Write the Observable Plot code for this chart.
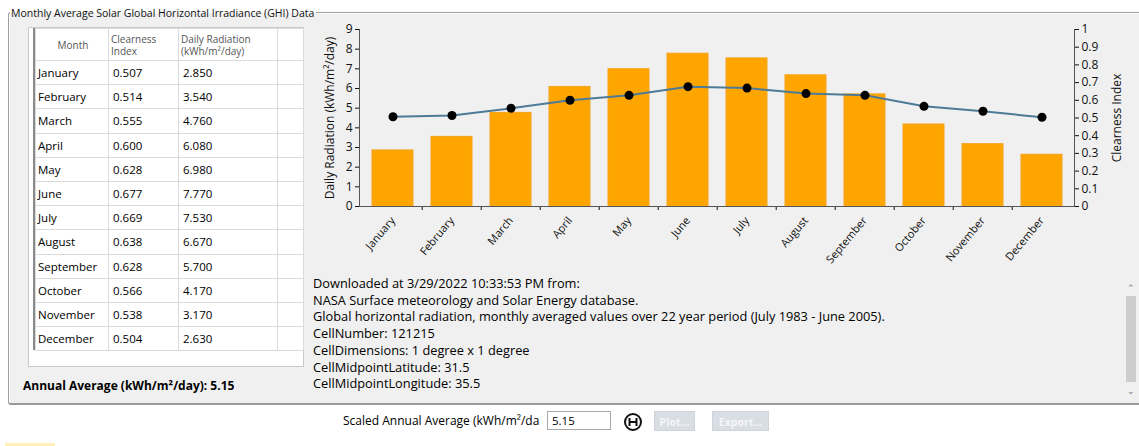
<!DOCTYPE html>
<html><head><meta charset="utf-8">
<script src="https://cdn.jsdelivr.net/npm/d3@7"></script>
<script src="https://cdn.jsdelivr.net/npm/@observablehq/plot@0.6"></script>
<style>
body{margin:0;background:#fff;font-family:"Open Sans",sans-serif;color:#000;}
#root{position:relative;width:1139px;height:446px;overflow:hidden;background:#fff;}
#group{position:absolute;left:8px;top:12px;width:1131px;height:390px;border:1px solid #a0a0a0;border-right:none;border-bottom:2px solid #9a9a9a;border-radius:3px 0 0 3px;background:#f0f0f0;box-shadow:inset 1px 1px 0 #fff;}
#gtitle{position:absolute;left:10px;top:6px;font-size:10.5px;line-height:14px;padding:0 2px 0 1px;background:linear-gradient(#fff 50%,#f0f0f0 50%);color:#111;white-space:nowrap;}
#tablebox{position:absolute;left:28px;top:27px;width:274px;height:338px;background:#fff;border:1px solid #c9c9c9;}
#tbar{position:absolute;left:4px;top:0;width:2px;height:322px;background:#8a8a8a;}
table{position:absolute;left:6px;top:0;border-collapse:collapse;table-layout:fixed;}
td,th{border:1px solid #dadada;padding:0 0 0 2px;font-weight:normal;text-align:left;vertical-align:middle;white-space:nowrap;overflow:hidden;}
th{height:31px;font-size:10px;line-height:12px;color:#555;}
td{height:23.2px;font-size:11.5px;color:#000;}
#annual{position:absolute;left:23px;top:377px;font-size:12px;font-weight:bold;}
#chart{position:absolute;left:303px;top:20px;}
#info{position:absolute;left:313px;top:275px;font-size:12.8px;line-height:16.7px;color:#000;white-space:nowrap;}
#scroll{position:absolute;left:1125px;top:280px;width:11px;height:120px;}
#scroll .thumb{position:absolute;left:1px;top:16px;width:10px;height:86px;background:#cdcdcd;}
#scroll .up,#scroll .dn{position:absolute;left:1px;width:10px;text-align:center;font-size:9px;color:#777;line-height:10px;}
#bottom{position:absolute;left:0;top:403px;width:1139px;height:43px;}
#slabel{position:absolute;left:343px;top:9px;font-size:12px;white-space:nowrap;}
#sinput{position:absolute;left:547px;top:8px;width:64px;height:19px;border:1px solid #a9a9a9;background:#fff;font-size:11.5px;line-height:18px;padding-left:4px;box-sizing:border-box;}
#icon{position:absolute;left:623px;top:9px;}
.btn{position:absolute;top:8px;height:20px;background:#d9dde4;border:1px solid #cfd3da;color:#f4f6fa;font-size:10.5px;font-weight:bold;line-height:20px;text-align:center;box-sizing:border-box;}
#yellow{position:absolute;left:5px;top:443px;width:50px;height:3px;background:#fff1b8;}
</style></head><body>
<div id="root">
  <div id="group"></div>
  <div id="gtitle">Monthly Average Solar Global Horizontal Irradiance (GHI) Data</div>
  <div id="tablebox"><div id="tbar"></div><table id="tbl"></table></div>
  <div id="annual"></div>
  <div id="chart"></div>
  <div id="info"></div>
  <div id="scroll"><div class="up" style="top:3px">&#8963;</div><div class="thumb"></div><div class="dn" style="top:106px">&#8964;</div></div>
  <div id="bottom">
    <div id="slabel">Scaled Annual Average (kWh/m²/da</div>
    <div id="sinput"></div>
    <svg id="icon" width="20" height="20" viewBox="0 0 20 20"><circle cx="10" cy="10" r="8" fill="none" stroke="#111" stroke-width="2"/><path d="M6.5 6v8M13.5 6v8M6.5 10h7" stroke="#111" stroke-width="2" fill="none"/></svg>
    <div class="btn" style="left:654px;width:41px;">Plot...</div>
    <div class="btn" style="left:712px;width:57px;">Export...</div>
  </div>
  <div id="yellow"></div>
</div>
<script>
// ---- data ----
const months = ["January","February","March","April","May","June","July","August","September","October","November","December"];
const clearness = [0.507,0.514,0.555,0.600,0.628,0.677,0.669,0.638,0.628,0.566,0.538,0.504];
const radiation = [2.850,3.540,4.760,6.080,6.980,7.770,7.530,6.670,5.700,4.170,3.170,2.630];
const yTicks = [0,1,2,3,4,5,6,7,8,9];
const ciTicks = [0,0.1,0.2,0.3,0.4,0.5,0.6,0.7,0.8,0.9,1];
const annualAverage = 5.15;
const tableHeaders = ["Month","Clearness<br>Index","Daily Radiation<br>(kWh/m²/day)",""];
const infoLines = [
  "Downloaded at 3/29/2022 10:33:53 PM from:",
  "NASA Surface meteorology and Solar Energy database.",
  "Global horizontal radiation, monthly averaged values over 22 year period (July 1983 - June 2005).",
  "CellNumber: 121215",
  "CellDimensions: 1 degree x 1 degree",
  "CellMidpointLatitude: 31.5",
  "CellMidpointLongitude: 35.5"
];

// ---- table ----
const colW = [73,70,99,26];
let html = "<colgroup>" + colW.map(w=>`<col style="width:${w}px">`).join("") + "</colgroup>";
html += "<tr>" + tableHeaders.map((h,i)=>`<th style="${i===0?'text-align:center':''}">${h}</th>`).join("") + "</tr>";
months.forEach((m,i)=>{
  html += `<tr><td>${m}</td><td style="padding-left:4px">${clearness[i].toFixed(3)}</td><td style="padding-left:4px">${radiation[i].toFixed(3)}</td><td></td></tr>`;
});
document.getElementById("tbl").innerHTML = html;
document.getElementById("tbl").style.width = d3.sum(colW) + "px";
document.getElementById("annual").textContent = "Annual Average (kWh/m²/day): " + annualAverage.toFixed(2);
document.getElementById("sinput").textContent = annualAverage.toFixed(2);
document.getElementById("info").innerHTML = infoLines.join("<br>");

// ---- chart ----
const W = 832, H = 250, mL = 56, mR = 61, mT = 9, mB = 64;
const yMax = 9;
const step = (W - mL - mR) / months.length;
const data = months.map((m,i)=>({month:m, radiation:radiation[i], clearness:clearness[i]}));
const chart = Plot.plot({
  width: W, height: H, marginLeft: mL, marginRight: mR, marginTop: mT, marginBottom: mB,
  style: {background:"transparent", fontFamily:"'Open Sans',sans-serif", fontSize:"12px", color:"#111", overflow:"visible"},
  x: {domain: months, paddingInner: 0.31, paddingOuter: 0.155, align: 0.5},
  y: {domain: [0, yMax]},
  marks: [
    Plot.barY(data, {x:"month", y:"radiation", fill:"#ffa500", stroke:"#f3a41a", strokeWidth:1}),
    Plot.line(data, {x:"month", y:d=>d.clearness*yMax, stroke:"#4d7b97", strokeWidth:2}),
    Plot.dot(data, {x:"month", y:d=>d.clearness*yMax, r:4.5, fill:"#000"}),
    Plot.axisY(yTicks, {anchor:"left", tickSize:4, tickPadding:3, label:"Daily Radiation (kWh/m²/day)", labelAnchor:"center", labelArrow:"none", labelOffset:34, fontSize:12}),
    Plot.axisY(ciTicks.map(v=>v*yMax), {anchor:"right", tickSize:4, tickPadding:3, tickFormat:d=>String(+(d/yMax).toFixed(1)), label:"Clearness Index", labelAnchor:"center", labelArrow:"none", labelOffset:46, fontSize:12}),
    Plot.axisX({tickSize:0, tickRotate:-50, tickPadding:12, label:null, fontSize:11}),
    Plot.axisX(months.slice(1), {tickSize:4, tickFormat:()=>"", dx:-step/2, label:null}),
    Plot.ruleY([0], {stroke:"#555"}),
    Plot.frame({anchor:"left", stroke:"#555"}),
    Plot.frame({anchor:"right", stroke:"#555"})
  ]
});
document.getElementById("chart").appendChild(chart);
</script>
</body></html>
